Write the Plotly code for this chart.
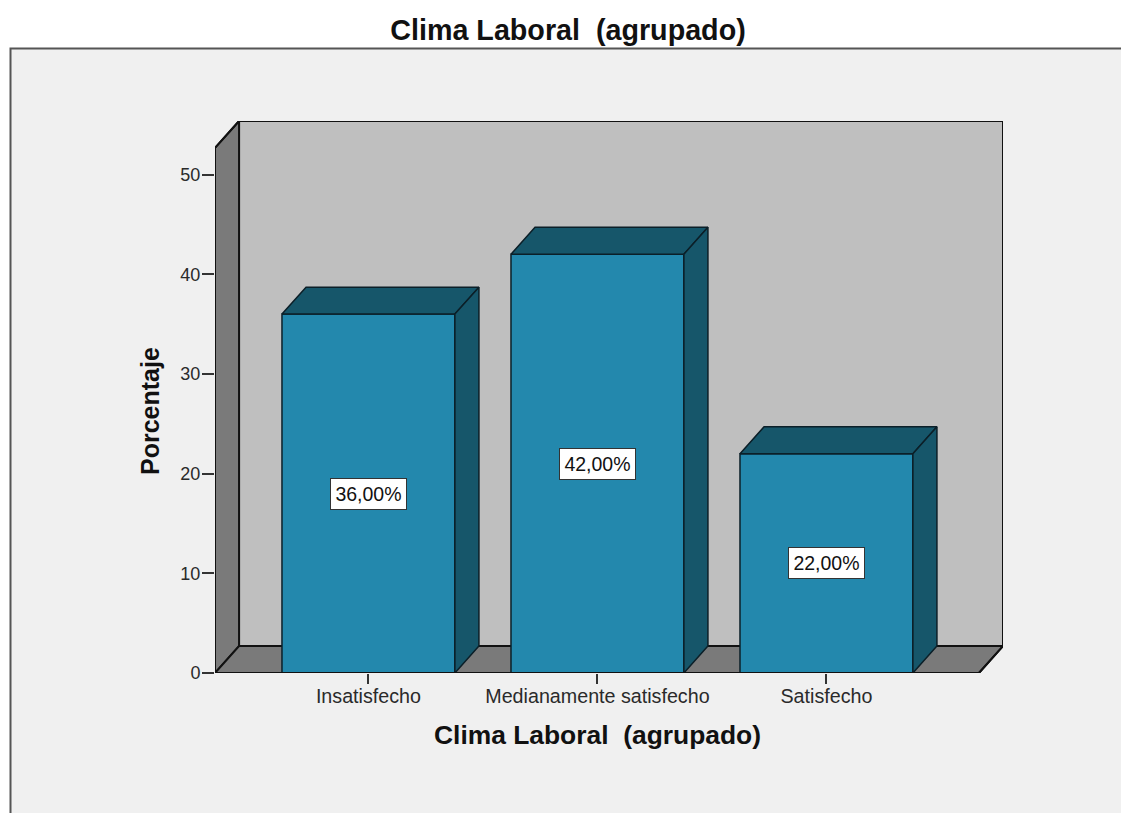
import plotly.graph_objects as go

categories = ["Insatisfecho", "Medianamente satisfecho", "Satisfecho"]
percentages = [36.0, 42.0, 22.0]
value_labels = ["36,00%", "42,00%", "22,00%"]
y_ticks = [0, 10, 20, 30, 40, 50]

FRONT = "#2388AD"
DARK = "#16566A"
WALL = "#BFBFBF"
SIDE_WALL = "#7A7A7A"
PANEL = "#F0F0F0"
INK = "#2A2A2A"
FONT = "Liberation Sans"

# Oblique projection of the box, in axis units
DX = 0.105
DY = 2.7
BAR_WIDTH = 0.755
X_MIN = -0.670
X_MAX = 2.771
Y_MAX = 55.37
X_FRONT_MAX = X_MAX - DX
Y_FRONT_MAX = Y_MAX - DY

positions = list(range(len(categories)))


def path(points):
    return "M " + " L ".join(f"{x} {y}" for x, y in points) + " Z"


def wall(points, fill):
    return dict(type="path", path=path(points), xref="x", yref="y", layer="below",
                fillcolor=fill, line=dict(color="#111111", width=2))


fig = go.Figure()

# Front faces of the bars
fig.add_trace(go.Bar(
    x=positions, y=percentages, width=BAR_WIDTH,
    marker=dict(color=FRONT, line=dict(color="#0B1F28", width=1.5)),
    showlegend=False, hoverinfo="skip",
))

# Top and side faces of each bar
for pos, val in zip(positions, percentages):
    left = pos - BAR_WIDTH / 2
    right = pos + BAR_WIDTH / 2
    fig.add_trace(go.Scatter(
        x=[left, left + DX, right + DX, right, left],
        y=[val, val + DY, val + DY, val, val],
        mode="lines", fill="toself", fillcolor=DARK,
        line=dict(color="#0B1F28", width=1.5),
        showlegend=False, hoverinfo="skip",
    ))
    fig.add_trace(go.Scatter(
        x=[right, right + DX, right + DX, right, right],
        y=[val, val + DY, DY, 0, val],
        mode="lines", fill="toself", fillcolor=DARK,
        line=dict(color="#0B1F28", width=1.5),
        showlegend=False, hoverinfo="skip",
    ))

# Outer silhouette of the chart box
fig.add_trace(go.Scatter(
    x=[X_MIN, X_MIN + DX, X_MAX, X_MAX, X_FRONT_MAX, X_MIN, X_MIN],
    y=[Y_FRONT_MAX, Y_MAX, Y_MAX, DY, 0, 0, Y_FRONT_MAX],
    mode="lines", line=dict(color="#111111", width=2),
    cliponaxis=False, showlegend=False, hoverinfo="skip",
))

shapes = [
    dict(type="rect", xref="paper", yref="paper", x0=10.5 / 1121, x1=1.01,
         y0=-0.01, y1=1 - 48.5 / 813, layer="below", fillcolor=PANEL,
         line=dict(color="#555555", width=2)),
    wall([(X_MIN + DX, DY), (X_MAX, DY), (X_MAX, Y_MAX), (X_MIN + DX, Y_MAX)], WALL),
    wall([(X_MIN, 0), (X_MIN + DX, DY), (X_MIN + DX, Y_MAX), (X_MIN, Y_FRONT_MAX)], SIDE_WALL),
    wall([(X_MIN, 0), (X_FRONT_MAX, 0), (X_MAX, DY), (X_MIN + DX, DY)], SIDE_WALL),
]

# Value boxes at the middle of each bar
annotations = [
    dict(x=pos, y=val / 2, xref="x", yref="y", text=label, showarrow=False,
         font=dict(family=FONT, size=19.5, color="#111111"),
         bgcolor="white", bordercolor="#333333", borderwidth=1,
         width=73, height=28)
    for pos, val, label in zip(positions, percentages, value_labels)
]

# Axis titles, placed in page fractions
annotations += [
    dict(x=597 / 1121, y=1 - 735 / 813, xref="paper", yref="paper", showarrow=False,
         text="Clima Laboral  (agrupado)", xanchor="center", yanchor="middle",
         font=dict(family=FONT, size=26.4, color="#111111", weight="bold")),
    dict(x=150 / 1121, y=1 - 411 / 813, xref="paper", yref="paper", showarrow=False,
         text="Porcentaje", textangle=-90, xanchor="center", yanchor="middle",
         font=dict(family=FONT, size=25, color="#111111", weight="bold")),
]

fig.update_layout(
    width=1121, height=813,
    margin=dict(l=0, r=0, t=0, b=0, autoexpand=False),
    paper_bgcolor="white", plot_bgcolor="rgba(0,0,0,0)",
    shapes=shapes, annotations=annotations, showlegend=False,
    title=dict(text="Clima Laboral  (agrupado)", x=568 / 1121, xanchor="center",
               y=1 - 29.5 / 813, yanchor="middle",
               font=dict(family=FONT, size=28.7, color="#111111", weight="bold")),
    xaxis=dict(domain=[215 / 1121, 1003 / 1121], range=[X_MIN, X_MAX],
               tickmode="array", tickvals=positions, ticktext=categories,
               ticks="outside", ticklen=10, tickwidth=2, tickcolor="#333333",
               ticklabelstandoff=-5,
               tickfont=dict(family=FONT, size=19.7, color=INK),
               showgrid=False, zeroline=False, showline=False),
    yaxis=dict(domain=[1 - 673 / 813, 1 - 121 / 813], range=[0, Y_MAX],
               tickmode="array", tickvals=y_ticks,
               ticks="outside", ticklen=12, tickwidth=2, tickcolor="#333333",
               ticklabelstandoff=-2,
               tickfont=dict(family=FONT, size=18, color=INK),
               showgrid=False, zeroline=False, showline=False),
)

fig.write_html("out.html")
